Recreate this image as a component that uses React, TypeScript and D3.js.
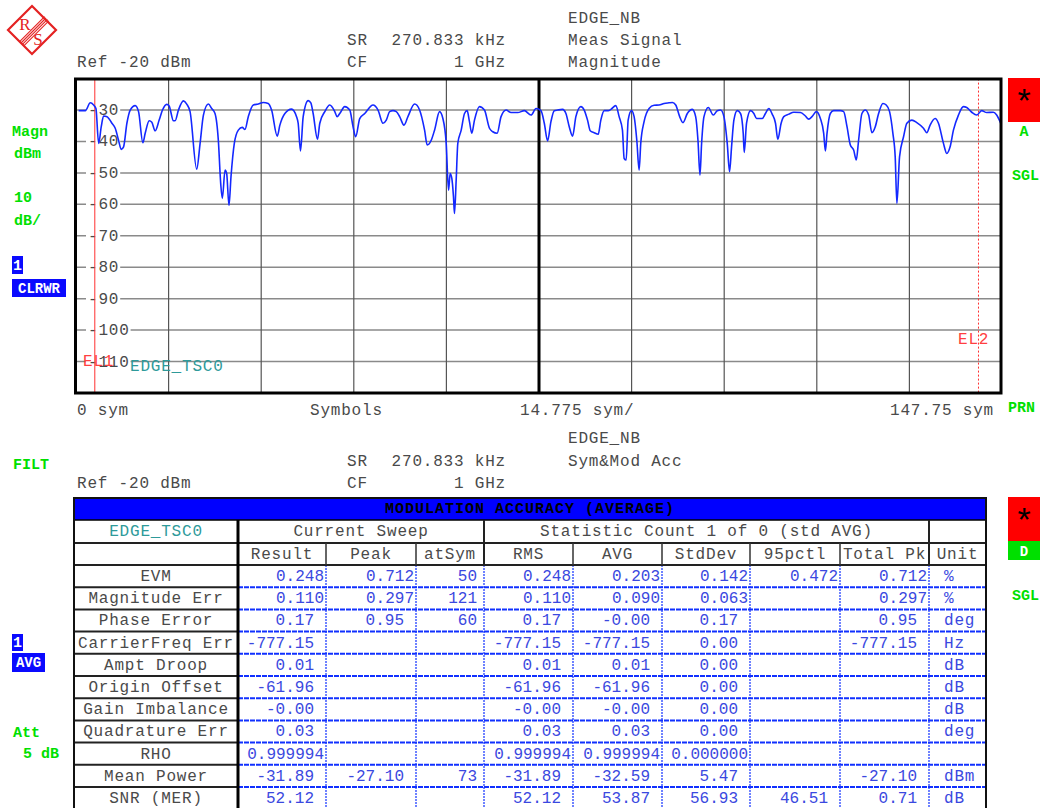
import React from 'react';
import * as d3 from 'd3';

// ---------- DATA ----------
const tracePoints: [number, number][] = [
  [0.42,-30.2],[1.49,-30.2],[2.28,-27.7],[2.81,-28.4],[3.18,-29.5],[3.61,-40.6],[4.03,-35.3],[4.40,-31.9],[4.94,-32.1],[5.73,-34.2],
  [6.26,-35.8],[6.79,-39.6],[7.22,-42.5],[7.59,-41.7],[8.12,-34.2],[8.65,-30.0],[9.45,-28.6],[9.98,-30.5],[10.67,-40.4],[11.04,-37.4],
  [11.68,-33.4],[12.10,-33.9],[12.63,-36.6],[13.27,-33.2],[13.80,-30.0],[14.49,-28.2],[14.86,-28.7],[15.55,-33.4],[15.81,-33.4],[16.35,-30.0],
  [17.14,-27.1],[17.67,-28.1],[18.20,-30.5],[19.26,-48.8],[19.80,-40.6],[20.33,-31.6],[21.12,-28.1],[21.65,-29.5],[22.18,-31.1],[22.71,-39.6],
  [23.09,-53.4],[23.35,-58.1],[23.78,-49.1],[24.04,-50.2],[24.41,-60.3],[24.73,-51.2],[25.26,-40.6],[25.90,-36.4],[26.53,-35.5],[26.96,-36.2],
  [27.49,-32.1],[28.29,-28.4],[29.08,-28.1],[29.88,-27.6],[30.67,-27.9],[31.21,-30.0],[32.11,-38.3],[32.53,-34.8],[33.33,-31.1],[34.39,-29.7],
  [35.19,-32.1],[35.45,-34.2],[35.82,-43.0],[36.25,-32.1],[37.04,-27.0],[37.47,-27.7],[37.84,-31.1],[38.53,-39.3],[38.90,-34.2],[39.70,-30.5],
  [40.49,-28.4],[41.29,-30.5],[41.66,-32.1],[42.08,-31.1],[42.88,-28.9],[43.68,-30.0],[44.21,-35.3],[44.63,-38.5],[45.27,-32.7],[46.07,-31.1],
  [47.39,-28.4],[48.19,-30.0],[48.98,-34.2],[49.51,-33.2],[50.05,-30.5],[50.58,-30.2],[51.11,-30.5],[51.64,-32.1],[52.33,-34.8],[52.96,-32.1],
  [54.03,-28.1],[54.82,-30.0],[55.62,-36.4],[56.04,-41.1],[56.68,-39.6],[57.21,-36.4],[58.01,-30.5],[58.54,-32.7],[59.07,-40.6],[59.44,-55.5],
  [59.70,-50.2],[59.97,-51.8],[60.23,-57.6],[60.39,-62.9],[60.66,-52.3],[60.92,-40.6],[61.46,-36.4],[61.99,-31.1],[62.41,-30.2],[62.78,-33.7],
  [63.15,-37.4],[63.58,-33.2],[64.37,-28.9],[65.17,-30.0],[65.97,-35.8],[66.50,-36.9],[67.19,-37.4],[67.82,-32.1],[68.62,-30.0],[69.42,-30.8],
  [70.48,-30.8],[71.54,-30.2],[72.60,-31.6],[73.40,-29.5],[74.19,-30.2],
  [74.72,-34.2],[75.25,-39.8],[75.78,-33.7],[76.31,-30.2],[76.85,-30.0],[77.64,-29.8],[78.17,-31.1],[78.70,-35.3],[79.23,-38.3],[79.76,-32.1],
  [80.56,-28.9],[81.09,-30.0],[81.62,-33.2],[82.05,-36.6],[82.68,-37.2],[83.32,-37.7],[83.74,-33.2],[84.28,-30.2],[84.91,-30.2],[85.34,-29.8],
  [86.13,-28.6],[86.66,-32.1],[87.19,-36.4],[87.46,-45.4],[87.78,-45.9],[88.10,-33.2],[88.63,-30.2],[89.05,-32.1],[89.48,-39.6],[89.85,-49.1],
  [90.11,-40.6],[90.64,-33.7],[91.44,-29.5],[92.24,-28.5],[93.03,-28.4],[93.83,-27.9],[94.62,-27.7],[95.16,-27.6],[95.69,-28.4],[96.32,-32.1],
  [96.85,-34.0],[97.54,-31.1],[98.34,-29.8],[98.87,-32.1],[99.24,-39.6],[99.56,-50.7],[99.82,-40.6],[100.20,-32.1],[100.89,-29.2],[101.68,-31.6],
  [102.32,-30.2],[102.85,-30.0],[103.38,-32.1],[103.91,-40.6],[104.28,-49.6],[104.60,-41.7],[104.97,-33.2],[105.50,-30.2],[106.03,-31.1],[106.46,-37.4],
  [106.62,-43.5],[106.99,-34.2],[107.63,-30.2],[108.16,-31.1],[108.58,-32.7],[109.48,-32.7],[110.01,-31.1],[110.55,-29.5],[111.08,-31.3],[111.61,-34.2],
  [111.98,-39.3],[112.51,-34.2],[112.93,-32.1],[113.73,-31.3],[114.53,-30.7],[115.59,-30.8],[116.38,-31.9],[116.91,-32.9],[117.44,-32.1],[118.13,-30.5],
  [118.77,-32.7],[119.30,-37.4],[119.57,-43.0],[119.83,-37.4],[120.36,-31.1],[120.89,-30.2],[121.96,-30.2],[122.49,-30.5],[123.02,-35.3],[123.55,-41.1],
  [124.08,-42.7],[124.50,-45.9],[124.87,-39.6],[125.40,-31.1],[125.93,-30.0],[126.47,-31.6],[127.00,-37.2],[127.53,-35.3],[128.06,-31.1],[128.75,-27.9],
  [129.28,-28.4],[129.81,-30.5],[130.34,-37.4],[130.71,-44.9],[130.98,-59.7],[131.40,-44.9],[132.04,-38.5],[132.57,-34.2],[133.37,-33.2],[134.16,-34.0],
  [135.22,-35.8],[135.75,-37.2],[136.28,-34.8],[137.08,-32.7],[137.61,-34.2],[138.41,-40.6],[138.94,-43.8],[139.47,-41.7],[140.00,-36.4],[140.80,-31.6],
  [141.59,-28.9],[142.12,-29.2],[142.92,-30.7],[143.71,-31.6],[144.51,-30.2],[145.31,-30.8],[146.37,-30.7],[146.90,-31.6],[147.54,-34.2]
];

const xDomain = [0, 147.75];
const xDivisions = 10;
const yDomain = [-120, -20];
const yTickValues = [-30, -40, -50, -60, -70, -80, -90, -100, -110];
const evalLine1 = 3;
const evalLine2 = 144;

const rowLabels = ['EVM', 'Magnitude Err', 'Phase Error', 'CarrierFreq Err', 'Ampt Droop', 'Origin Offset', 'Gain Imbalance', 'Quadrature Err', 'RHO', 'Mean Power', 'SNR (MER)'];
const colHeaders = ['Result', 'Peak', 'atSym', 'RMS', 'AVG', 'StdDev', '95pctl', 'Total Pk', 'Unit'];
const resultVals = ['0.248', '0.110', '0.17', '-777.15', '0.01', '-61.96', '-0.00', '0.03', '0.999994', '-31.89', '52.12'];
const peakVals = ['0.712', '0.297', '0.95', '', '', '', '', '', '', '-27.10', ''];
const atSymVals = ['50', '121', '60', '', '', '', '', '', '', '73', ''];
const rmsVals = ['0.248', '0.110', '0.17', '-777.15', '0.01', '-61.96', '-0.00', '0.03', '0.999994', '-31.89', '52.12'];
const avgVals = ['0.203', '0.090', '-0.00', '-777.15', '0.01', '-61.96', '-0.00', '0.03', '0.999994', '-32.59', '53.87'];
const stdDevVals = ['0.142', '0.063', '0.17', '0.00', '0.00', '0.00', '0.00', '0.00', '0.000000', '5.47', '56.93'];
const pct95Vals = ['0.472', '', '', '', '', '', '', '', '', '', '46.51'];
const totalPkVals = ['0.712', '0.297', '0.95', '-777.15', '', '', '', '', '', '-27.10', '0.71'];
const unitVals = ['%', '%', 'deg', 'Hz', 'dB', 'dB', 'dB', 'deg', '', 'dBm', 'dB'];

// ---------- LAYOUT / STYLE ----------
const MONO = "'Liberation Mono', 'DejaVu Sans Mono', monospace";
const GRAY = '#4a4a4a';
const GREEN = '#00e000';
const BLUEBOX = '#0a0aff';
const VALBLUE = '#3a48e0';
const FS = 16;
const LS = 0.8;

const plot = { left: 76, right: 1002, top: 78.6, bottom: 393 };
const colX = [74, 238, 326, 416, 484, 573, 662, 750, 840, 929, 986];
const tbl = { barTop: 498, row2Top: 520, row3Top: 543, dataTop: 565, rowH: 22.2, bottom: 812 };

const T = (p: any) => (
  <text fontFamily={MONO} fontSize={FS} style={{ letterSpacing: LS }} fill={GRAY} {...p} />
);
const G = (p: any) => (
  <text fontFamily={MONO} fontSize={15} fontWeight="bold" fill={GREEN} {...p} />
);

function padFor(v: string) {
  if (!v.includes('.')) return 7;
  const dec = v.split('.')[1].length;
  return dec === 2 ? 12 : 2;
}

export default function App() {
  const x = d3.scaleLinear().domain(xDomain).range([plot.left, plot.right]);
  const y = d3.scaleLinear().domain(yDomain).range([plot.bottom, plot.top]);
  const line = d3.line<[number, number]>().x(d => x(d[0])).y(d => y(d[1])).curve(d3.curveMonotoneX);
  const step = (xDomain[1] - xDomain[0]) / xDivisions;
  const vGrid = d3.range(1, xDivisions).map(i => i * step);

  const valueCols = [resultVals, peakVals, atSymVals, rmsVals, avgVals, stdDevVals, pct95Vals, totalPkVals];
  const rowY = (i: number) => tbl.dataTop + i * tbl.rowH;

  return (
    <svg width={1044} height={808} style={{ position: 'absolute', left: 0, top: 0, background: '#fff' }}>
      <defs>
        <clipPath id="plotclip">
          <rect x={plot.left} y={plot.top} width={plot.right - plot.left} height={plot.bottom - plot.top} />
        </clipPath>
      </defs>
      <rect x={0} y={0} width={1044} height={808} fill="#fff" />

      {/* R&S logo */}
      <g transform="translate(32,30)">
        <polygon points="0,-24 24,0 0,24 -24,0" fill="none" stroke="#e42222" strokeWidth={2.2} />
        {[-2, 0, 2, 4].map((o, i) => (
          <line key={i} x1={14 + o * 0.7} y1={-12 + o * 0.7} x2={-11 + o * 0.7} y2={13 + o * 0.7} stroke="#e42222" strokeWidth={1.1} />
        ))}
        <text x={-7} y={0} fontFamily="'Liberation Serif', serif" fontSize={17} fill="#e42222" textAnchor="middle">R</text>
        <text x={6} y={15} fontFamily="'Liberation Serif', serif" fontSize={17} fill="#e42222" textAnchor="middle">S</text>
      </g>

      {/* upper header */}
      <T x={77} y={67}>Ref -20 dBm</T>
      <T x={347} y={45}>SR</T>
      <T x={506} y={45} textAnchor="end">270.833 kHz</T>
      <T x={347} y={67}>CF</T>
      <T x={506} y={67} textAnchor="end">1 GHz</T>
      <T x={568} y={23}>EDGE_NB</T>
      <T x={568} y={45}>Meas Signal</T>
      <T x={568} y={67}>Magnitude</T>

      {/* left side labels upper */}
      <G x={12} y={136}>Magn</G>
      <G x={14} y={158}>dBm</G>
      <G x={14} y={202}>10</G>
      <G x={14} y={225}>dB/</G>
      <rect x={12} y={256} width={11} height={18} fill={BLUEBOX} />
      <text x={17.5} y={270} textAnchor="middle" fontFamily={MONO} fontSize={15} fontWeight="bold" fill="#fff">1</text>
      <rect x={12} y={279} width={54} height={18} fill={BLUEBOX} />
      <text x={39} y={293} textAnchor="middle" fontFamily={MONO} fontSize={14} fontWeight="bold" fill="#fff">CLRWR</text>

      {/* right side upper */}
      <rect x={1008} y={78} width={32} height={44} fill="#ff0000" />
      <text x={1024} y={112} textAnchor="middle" fontFamily="'Liberation Sans', sans-serif" fontSize={34} fill="#000">*</text>
      <G x={1024} y={136} textAnchor="middle">A</G>
      <G x={1012} y={180}>SGL</G>
      <G x={1008} y={412}>PRN</G>

      {/* plot grid */}
      {yTickValues.map(v => (
        <line key={'h' + v} x1={plot.left} x2={plot.right} y1={y(v)} y2={y(v)} stroke="#8a8a8a" strokeWidth={1.5} />
      ))}
      {vGrid.map((v, i) => (
        <line key={'v' + i} x1={x(v)} x2={x(v)} y1={plot.top} y2={plot.bottom}
          stroke={i === 4 ? '#000' : '#555'} strokeWidth={i === 4 ? 3 : 1.2} />
      ))}
      {yTickValues.map(v => {
        const s = String(v);
        return (
          <g key={'l' + v}>
            <rect x={86} y={y(v) - 7} width={s.length * (FS * 0.6 + LS) + 3} height={14} fill="#fff" />
            <T x={88} y={y(v) + 5}>{s}</T>
          </g>
        );
      })}

      {/* evaluation lines */}
      <line x1={x(evalLine1)} x2={x(evalLine1)} y1={plot.top} y2={plot.bottom} stroke="#ff3030" strokeWidth={1} />
      <line x1={x(evalLine2)} x2={x(evalLine2)} y1={plot.top} y2={plot.bottom} stroke="#ff3030" strokeWidth={1} strokeDasharray="2,2" />
      <T x={83} y={366} fill="#ff4040">EL1</T>
      <T x={958} y={344} fill="#ff4040">EL2</T>
      <T x={130} y={371} fill="#2e9a9a">EDGE_TSC0</T>

      {/* trace */}
      <path d={line(tracePoints) || ''} fill="none" stroke="#1428ff" strokeWidth={1.6} strokeLinejoin="round" clipPath="url(#plotclip)" />

      {/* frame */}
      <rect x={75.5} y={79} width={925.5} height={314} fill="none" stroke="#000" strokeWidth={3} />

      {/* x axis labels */}
      <T x={77} y={415}>0 sym</T>
      <T x={310} y={415}>Symbols</T>
      <T x={520} y={415}>14.775 sym/</T>
      <T x={994} y={415} textAnchor="end">147.75 sym</T>

      {/* lower header */}
      <T x={568} y={443}>EDGE_NB</T>
      <T x={347} y={466}>SR</T>
      <T x={506} y={466} textAnchor="end">270.833 kHz</T>
      <T x={568} y={466}>Sym&amp;Mod Acc</T>
      <T x={77} y={488}>Ref -20 dBm</T>
      <T x={347} y={488}>CF</T>
      <T x={506} y={488} textAnchor="end">1 GHz</T>

      {/* left side labels lower */}
      <G x={13} y={469}>FILT</G>
      <rect x={12} y={634} width={11} height={17} fill={BLUEBOX} />
      <text x={17.5} y={647} textAnchor="middle" fontFamily={MONO} fontSize={15} fontWeight="bold" fill="#fff">1</text>
      <rect x={12} y={653} width={33} height={19} fill={BLUEBOX} />
      <text x={28.5} y={667} textAnchor="middle" fontFamily={MONO} fontSize={14} fontWeight="bold" fill="#fff">AVG</text>
      <G x={13} y={737}>Att</G>
      <G x={23} y={758}>5 dB</G>

      {/* right side lower */}
      <rect x={1008} y={497} width={32} height={44} fill="#ff0000" />
      <text x={1024} y={531} textAnchor="middle" fontFamily="'Liberation Sans', sans-serif" fontSize={34} fill="#000">*</text>
      <rect x={1008} y={541} width={32} height={19} fill="#00e000" />
      <text x={1024} y={556} textAnchor="middle" fontFamily={MONO} fontSize={14} fontWeight="bold" fill="#fff">D</text>
      <G x={1012} y={600}>SGL</G>

      {/* table */}
      <rect x={colX[0]} y={tbl.barTop} width={colX[10] - colX[0]} height={tbl.row2Top - tbl.barTop} fill="#0000ff" />
      <text x={(colX[0] + colX[10]) / 2} y={tbl.barTop + 15} textAnchor="middle" fontFamily={MONO} fontSize={15} fontWeight="bold" style={{ letterSpacing: 1 }} fill="#000">MODULATION ACCURACY (AVERAGE)</text>

      {/* row 2 */}
      <T x={(colX[0] + colX[1]) / 2} y={tbl.row2Top + 16} textAnchor="middle" fill="#2e9a9a">EDGE_TSC0</T>
      <T x={(colX[1] + colX[4]) / 2} y={tbl.row2Top + 16} textAnchor="middle">Current Sweep</T>
      <T x={(colX[4] + colX[9]) / 2} y={tbl.row2Top + 16} textAnchor="middle">Statistic Count 1 of 0 (std AVG)</T>

      {/* row 3 headers */}
      {colHeaders.map((h, i) => (
        <T key={'ch' + i} x={(colX[i + 1] + colX[i + 2]) / 2} y={tbl.row3Top + 16} textAnchor="middle">{h}</T>
      ))}

      {/* data row lines */}
      {rowLabels.map((_, i) => (
        <g key={'rl' + i}>
          <line x1={colX[0]} x2={colX[1]} y1={rowY(i)} y2={rowY(i)} stroke="#222" strokeWidth={2} />
          {i > 0 && <line x1={colX[1]} x2={colX[10]} y1={rowY(i)} y2={rowY(i)} stroke="#1030ff" strokeWidth={2} strokeDasharray="5,1" />}
        </g>
      ))}
      <line x1={colX[0]} x2={colX[1]} y1={rowY(rowLabels.length)} y2={rowY(rowLabels.length)} stroke="#222" strokeWidth={2} />
      {colX.slice(2, 10).map((cx, i) => (
        <line key={'dv' + i} x1={cx} x2={cx} y1={tbl.dataTop} y2={tbl.bottom} stroke="#1030ff" strokeWidth={1.2} strokeDasharray="2,1" />
      ))}

      {/* header grid lines */}
      <line x1={colX[0]} x2={colX[10]} y1={tbl.row2Top} y2={tbl.row2Top} stroke="#000" strokeWidth={1.5} />
      <line x1={colX[0]} x2={colX[10]} y1={tbl.row3Top} y2={tbl.row3Top} stroke="#222" strokeWidth={2} />
      <line x1={colX[1]} x2={colX[10]} y1={tbl.dataTop} y2={tbl.dataTop} stroke="#222" strokeWidth={2} />
      {[colX[4], colX[9]].map((cx, i) => (
        <line key={'r2v' + i} x1={cx} x2={cx} y1={tbl.row2Top} y2={tbl.dataTop} stroke="#222" strokeWidth={2} />
      ))}
      {[2, 3, 5, 6, 7, 8].map(k => (
        <line key={'r3v' + k} x1={colX[k]} x2={colX[k]} y1={tbl.row3Top} y2={tbl.dataTop} stroke="#333" strokeWidth={1.5} />
      ))}
      <line x1={colX[1]} x2={colX[1]} y1={tbl.row2Top} y2={tbl.bottom} stroke="#000" strokeWidth={3} />
      <rect x={colX[0]} y={tbl.barTop} width={colX[10] - colX[0]} height={tbl.bottom - tbl.barTop} fill="none" stroke="#111" strokeWidth={2} />

      {/* data row text */}
      {rowLabels.map((lab, i) => (
        <g key={'row' + i}>
          <T x={(colX[0] + colX[1]) / 2} y={rowY(i) + 16} textAnchor="middle">{lab}</T>
          {valueCols.map((col, c) => col[i] ? (
            <T key={'v' + c} x={colX[c + 2] - padFor(col[i])} y={rowY(i) + 16} textAnchor="end" fill={VALBLUE}
              style={{ letterSpacing: 0 }}>{col[i]}</T>
          ) : null)}
          {unitVals[i] && <T x={colX[9] + 15} y={rowY(i) + 16} fill={VALBLUE}>{unitVals[i]}</T>}
        </g>
      ))}
    </svg>
  );
}
